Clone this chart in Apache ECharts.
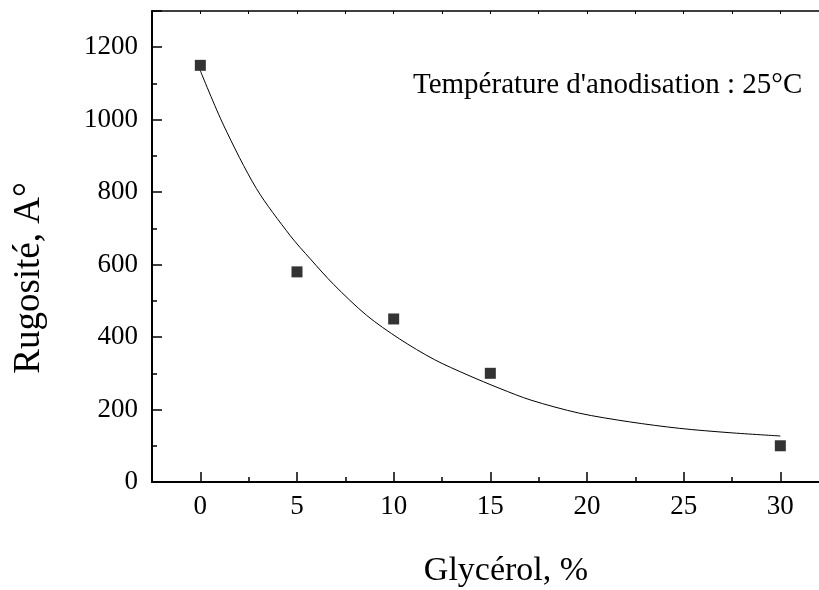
<!DOCTYPE html>
<html><head><meta charset="utf-8">
<script src="https://cdn.jsdelivr.net/npm/echarts@6/dist/echarts.min.js"></script>
<style>html,body{margin:0;padding:0;background:#fff}#c{width:819px;height:590px}</style>
</head><body><div id="c"></div>
<script>
// Data
const glycerol = [0, 5, 10, 15, 30];
const rugosite = [1150, 580, 450, 300, 100];
const fitX = [0, 1.2, 2.9, 4.65, 5.7, 6.9, 8.6, 10.3, 12.1, 13.8, 15.5, 17.1, 19.6, 22.2, 24.8, 27.4, 30];
const fitY = [1135, 985, 810, 680, 615, 545, 460, 395, 338, 296, 258, 226, 190, 166, 148, 136, 127];
const xMajorTicks = [0, 5, 10, 15, 20, 25, 30];
const xMinorTicks = [2.5, 7.5, 12.5, 17.5, 22.5, 27.5];
const annotation = "Température d'anodisation : 25°C";
const xTitle = "Glycérol, %";
const yTitle = "Rugosité, A°";

const FONT = "'Liberation Serif', 'DejaVu Serif', serif";
const chart = echarts.init(document.getElementById('c'));
chart.setOption({
  animation: false,
  backgroundColor: '#fff',
  grid: { left: 152, top: 11, right: 0, bottom: 108, containLabel: false },
  xAxis: [
    { type: 'value', min: -2.5, max: 32, position: 'bottom',
      axisLine: { show: true, onZero: false, lineStyle: { color: '#000', width: 2 } },
      axisTick: { show: true, inside: true, length: 10, customValues: xMajorTicks, lineStyle: { color: '#000', width: 1.5 } },
      axisLabel: { show: true, customValues: xMajorTicks, margin: 11, color: '#000', fontFamily: FONT, fontSize: 27 },
      splitLine: { show: false } },
    { type: 'value', min: -2.5, max: 32, position: 'bottom',
      axisLine: { show: false, onZero: false },
      axisTick: { show: true, inside: true, length: 5, customValues: xMinorTicks, lineStyle: { color: '#000', width: 1.5 } },
      axisLabel: { show: false }, splitLine: { show: false } },
    { type: 'value', min: -2.5, max: 32, interval: 2.5, position: 'top',
      axisLine: { show: true, onZero: false, lineStyle: { color: '#000', width: 1.5 } },
      axisTick: { show: true, inside: true, length: 3, lineStyle: { color: '#000', width: 1 } },
      axisLabel: { show: false }, splitLine: { show: false } }
  ],
  yAxis: [
    { type: 'value', min: 0, max: 1300, interval: 200, position: 'left',
      axisLine: { show: true, onZero: false, lineStyle: { color: '#000', width: 2 } },
      axisTick: { show: true, inside: true, length: 10, lineStyle: { color: '#000', width: 1.5 } },
      minorTick: { show: true, splitNumber: 2, length: 5, lineStyle: { color: '#000', width: 1.5 } },
      axisLabel: { margin: 14, color: '#000', fontFamily: FONT, fontSize: 27,
        formatter: v => (v % 200 === 0 ? String(v) : '') },
      splitLine: { show: false } }
  ],
  graphic: [
    { type: 'text', x: 413, y: 85, style: { text: annotation, fill: '#000', font: '29px ' + FONT, verticalAlign: 'middle' } },
    { type: 'text', x: 506, y: 571, style: { text: xTitle, fill: '#000', font: '34px ' + FONT, align: 'center', verticalAlign: 'middle' } },
    { type: 'text', x: 29, y: 278, rotation: Math.PI / 2, style: { text: yTitle, fill: '#000', font: '37px ' + FONT, align: 'center', verticalAlign: 'middle' } }
  ],
  series: [
    { type: 'line', xAxisIndex: 0, yAxisIndex: 0, smooth: 0.3, symbol: 'none',
      lineStyle: { color: '#000', width: 1 },
      data: fitX.map((x, i) => [x, fitY[i]]) },
    { type: 'scatter', xAxisIndex: 0, yAxisIndex: 0, symbol: 'rect', symbolSize: 11,
      itemStyle: { color: '#000' },
      data: glycerol.map((x, i) => [x, rugosite[i]]) }
  ]
});
</script></body></html>
